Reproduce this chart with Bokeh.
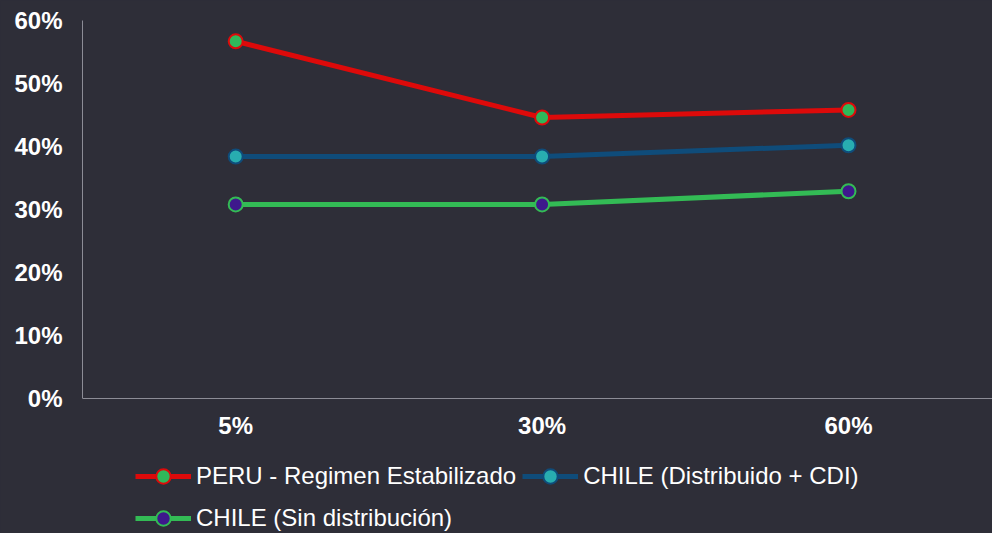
from bokeh.plotting import figure
from bokeh.models import Legend, LegendItem, FixedTicker, NumeralTickFormatter
from bokeh.embed import file_html
from bokeh.resources import INLINE

categories = ["5%", "30%", "60%"]
peru = [0.567, 0.446, 0.458]
chile_cdi = [0.384, 0.384, 0.402]
chile_sin = [0.308, 0.308, 0.329]
y_ticks = [0.0, 0.1, 0.2, 0.3, 0.4, 0.5, 0.6]

BG = "#2e2e38"
xs = list(range(len(categories)))

# frame spans the full lower area so the legend below the axis stays visible
p = figure(width=992, height=533, x_range=(-0.5, 2.47), y_range=(-0.2143, 0.6),
           output_backend="svg", toolbar_location=None,
           background_fill_color=BG, border_fill_color=BG,
           min_border_left=82, min_border_right=0, min_border_top=20,
           min_border_bottom=0)
p.outline_line_color = None
p.xgrid.visible = False
p.ygrid.visible = False

series = [
    ("PERU - Regimen Estabilizado", peru, "#dd0a0a", "#2fb85a", "#dd0a0a"),
    ("CHILE (Distribuido + CDI)", chile_cdi, "#0f4c7a", "#28adb0", "#0f4c7a"),
    ("CHILE (Sin distribución)", chile_sin, "#33bb55", "#3e188c", "#33bb55"),
]
items = []
for name, ys, lc, fc, oc in series:
    l = p.line(xs, ys, line_color=lc, line_width=5)
    c = p.scatter(xs, ys, size=14, fill_color=fc, line_color=oc, line_width=2)
    items.append(LegendItem(label=name, renderers=[l, c]))

for ax in (p.xaxis[0], p.yaxis[0]):
    ax.axis_line_color = "#8c8c96"
    ax.major_tick_line_color = None
    ax.minor_tick_line_color = None
    ax.major_tick_out = 0
    ax.major_tick_in = 0
    ax.minor_tick_out = 0
    ax.minor_tick_in = 0
    ax.major_label_text_color = "white"
    ax.major_label_text_font = "Liberation Sans"
    ax.major_label_text_font_style = "bold"
    ax.major_label_text_font_size = "24px"

p.xaxis.ticker = FixedTicker(ticks=xs)
p.xaxis.major_label_overrides = {i: c for i, c in enumerate(categories)}
p.xaxis.major_label_standoff = 14
p.xaxis.fixed_location = 0
p.yaxis.ticker = FixedTicker(ticks=y_ticks)
p.yaxis.formatter = NumeralTickFormatter(format="0%")
p.yaxis.major_label_standoff = 20
p.yaxis.bounds = (0, 0.6)

legend = Legend(items=items, orientation="horizontal", ncols=2,
                location=(53, -3), padding=0, margin=0, spacing=6,
                glyph_width=56, glyph_height=36, label_standoff=5,
                label_text_color="white", label_text_font="Liberation Sans",
                label_text_font_size="24px",
                background_fill_alpha=0, border_line_alpha=0)
p.add_layout(legend, "center")

html = file_html(p, INLINE)
html = html.replace("</head>",
                    "<style>html,body{background:%s;margin:0;}</style></head>" % BG, 1)
open("out.html", "w").write(html)
